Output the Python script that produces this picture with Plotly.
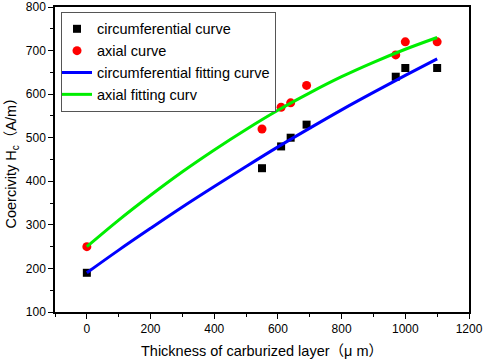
import plotly.graph_objects as go

# measured data
thickness = [0, 550, 610, 640, 690, 970, 1000, 1100]
circ_hc = [190, 430, 480, 500, 530, 640, 660, 660]
axial_hc = [250, 520, 570, 580, 620, 690, 720, 720]

# fitting curves
fit_x = [0, 100, 200, 300, 400, 500, 600, 700, 800, 900, 1000, 1100]
circ_fit = [190, 242, 292, 341, 388, 434, 479, 522, 564, 604, 643, 681]
axial_fit = [250, 311, 368, 422, 472, 519, 563, 603, 640, 673, 703, 730]

FONT = "Liberation Sans, Arial, Noto Sans CJK SC, sans-serif"

fig = go.Figure()
fig.add_trace(go.Scatter(x=thickness, y=circ_hc, mode="markers", name="circumferential curve",
                         marker=dict(symbol="square", size=8, color="black")))
fig.add_trace(go.Scatter(x=thickness, y=axial_hc, mode="markers", name="axial curve",
                         marker=dict(symbol="circle", size=9, color="#ff0000")))
fig.add_trace(go.Scatter(x=fit_x, y=circ_fit, mode="lines", name="circumferential fitting curve",
                         line=dict(color="#0000ff", width=3, shape="spline")))
fig.add_trace(go.Scatter(x=fit_x, y=axial_fit, mode="lines", name="axial fitting curv",
                         line=dict(color="#00ee00", width=3, shape="spline")))

fig.update_layout(
    width=484, height=361,
    margin=dict(l=55, r=15, t=7, b=49),
    paper_bgcolor="white", plot_bgcolor="white",
    font=dict(family=FONT, size=12, color="black"),
    showlegend=True,
    legend=dict(x=0.0145, y=0.984, xanchor="left", yanchor="top",
                bordercolor="#555555", borderwidth=1, bgcolor="white", indentation=-5,
                font=dict(size=14.5, family=FONT), tracegroupgap=0, itemwidth=30),
)
fig.update_xaxes(
    automargin=False,
    range=[-100, 1200], tickvals=[0, 200, 400, 600, 800, 1000, 1200],
    showgrid=False, zeroline=False,
    showline=True, linecolor="black", linewidth=1.5, mirror=True,
    ticks="outside", ticklen=5, tickwidth=1.2, tickcolor="black",
    minor=dict(tickvals=[-100, 100, 300, 500, 700, 900, 1100], ticks="outside", ticklen=3, tickcolor="black", tickwidth=1.2),
    tickfont=dict(size=12),
    title=dict(text="Thickness of carburized layer（μ m）", font=dict(size=14.5), standoff=11),
)
fig.update_yaxes(
    automargin=False,
    range=[100, 800], tickvals=[100, 200, 300, 400, 500, 600, 700, 800],
    showgrid=False, zeroline=False,
    showline=True, linecolor="black", linewidth=1.5, mirror=True,
    ticks="outside", ticklen=5, tickwidth=1.2, tickcolor="black",
    minor=dict(tickvals=[150, 250, 350, 450, 550, 650, 750], ticks="outside", ticklen=3, tickcolor="black", tickwidth=1.2),
    tickfont=dict(size=12),
    title=dict(text="Coercivity H<sub>c</sub>（A/m）", font=dict(size=14.5), standoff=6),
)

fig.write_html("out.html", config={"displayModeBar": False},
               post_script="document.body.style.margin='0px';document.body.style.overflow='hidden';")
